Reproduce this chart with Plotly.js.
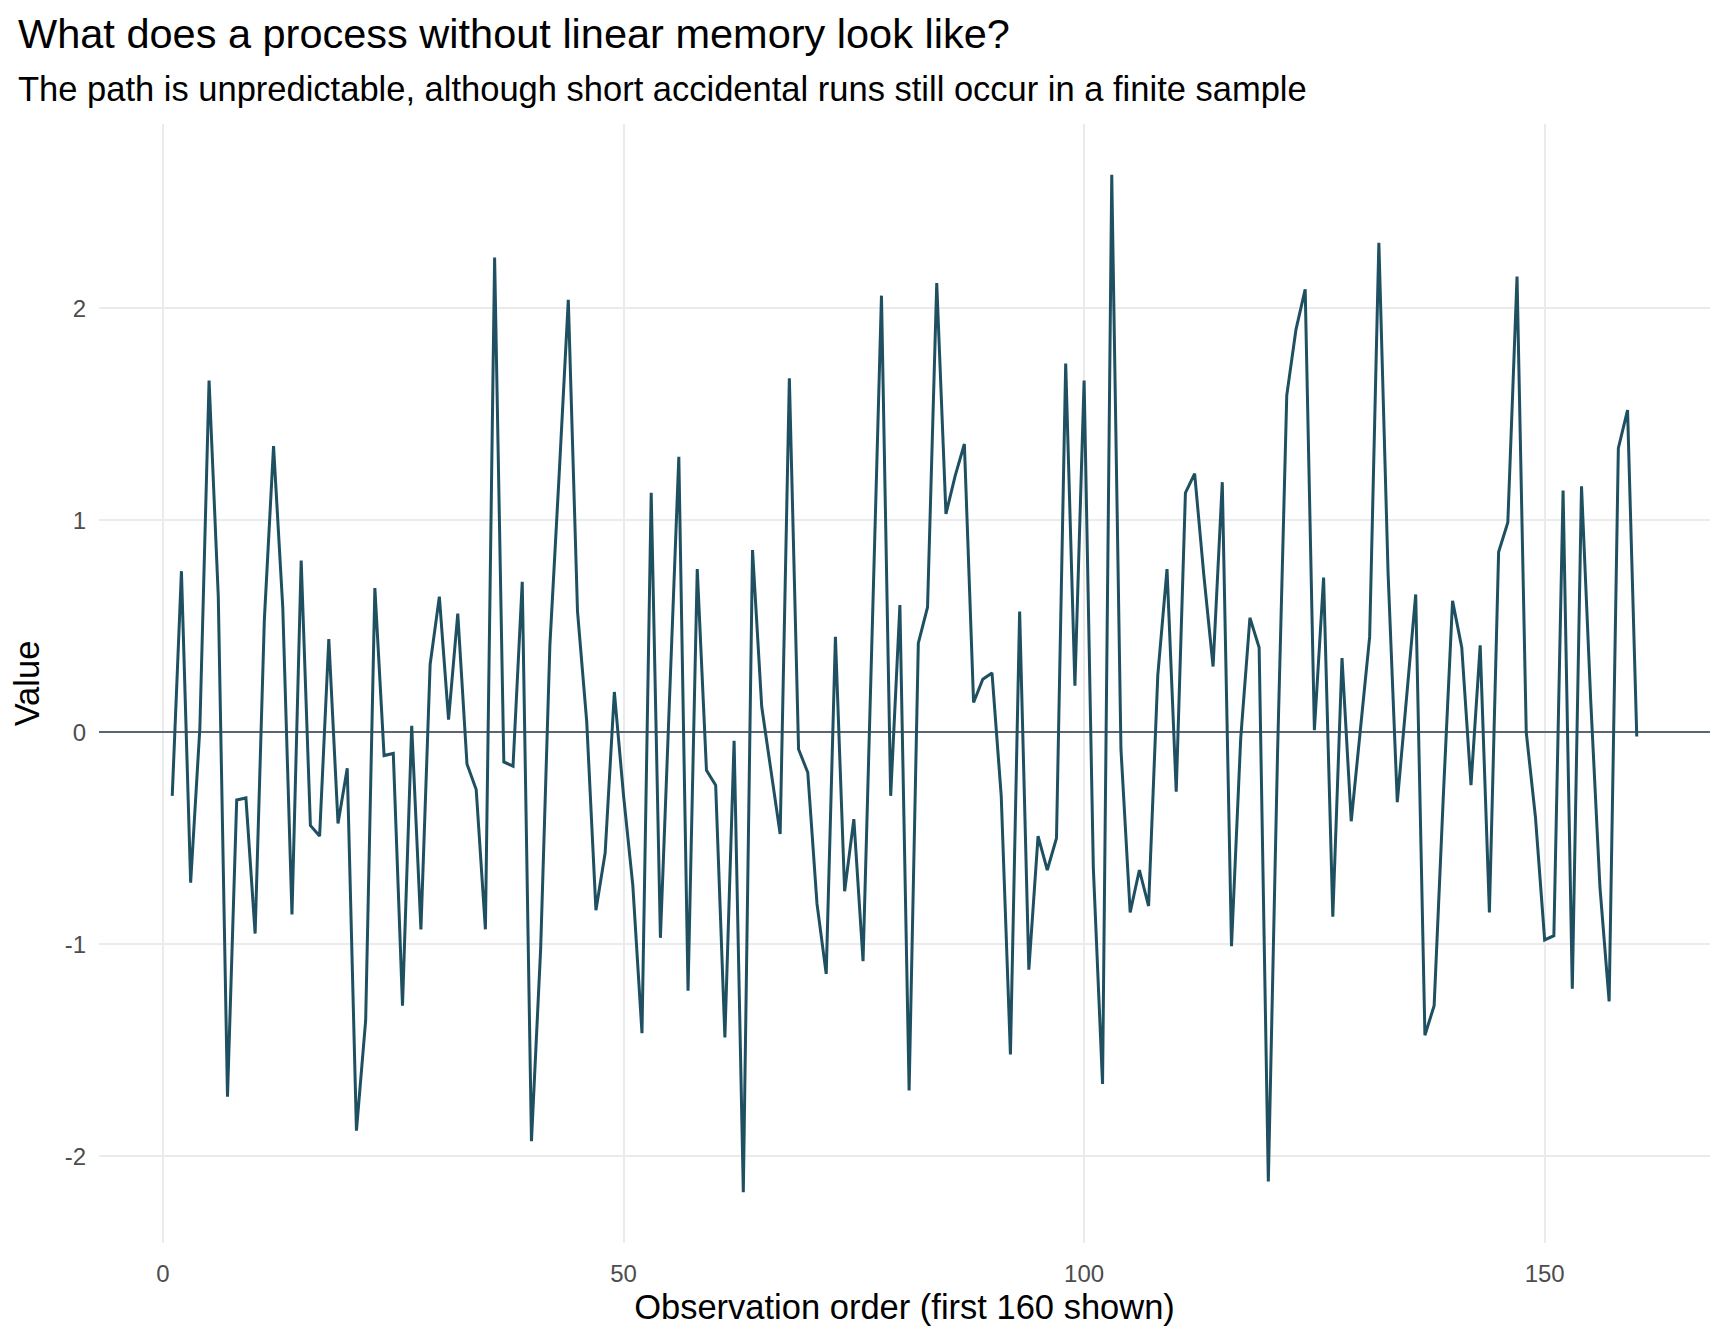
<!DOCTYPE html>
<html>
<head>
<meta charset="utf-8">
<script src="https://cdn.plot.ly/plotly-3.0.1.min.js"></script>
<style>
  html, body { margin: 0; padding: 0; background: #fff; }
  #chart { width: 1728px; height: 1344px; }
</style>
</head>
<body>
<div id="chart"></div>
<script>
  var obsValues = [
    -0.30, 0.76, -0.71, 0.02, 1.66, 0.64, -1.72, -0.32, -0.31, -0.95,
    0.53, 1.35, 0.59, -0.86, 0.81, -0.44, -0.49, 0.44, -0.43, -0.17,
    -1.88, -1.36, 0.68, -0.11, -0.10, -1.29, 0.03, -0.93, 0.32, 0.64,
    0.06, 0.56, -0.15, -0.27, -0.93, 2.24, -0.14, -0.16, 0.71, -1.93,
    -1.02, 0.41, 1.21, 2.04, 0.57, 0.05, -0.84, -0.57, 0.19, -0.30,
    -0.72, -1.42, 1.13, -0.97, 0.17, 1.30, -1.22, 0.77, -0.18, -0.25,
    -1.44, -0.04, -2.17, 0.86, 0.12, -0.17, -0.48, 1.67, -0.08, -0.19,
    -0.81, -1.14, 0.45, -0.75, -0.41, -1.08, 0.50, 2.06, -0.30, 0.60,
    -1.69, 0.42, 0.59, 2.12, 1.03, 1.21, 1.36, 0.14, 0.25, 0.28,
    -0.30, -1.52, 0.57, -1.12, -0.49, -0.65, -0.50, 1.74, 0.22, 1.66,
    -0.64, -1.66, 2.63, -0.08, -0.85, -0.65, -0.82, 0.27, 0.77, -0.28,
    1.13, 1.22, 0.74, 0.31, 1.18, -1.01, -0.03, 0.54, 0.40, -2.12,
    -0.10, 1.59, 1.90, 2.09, 0.01, 0.73, -0.87, 0.35, -0.42, 0.02,
    0.45, 2.31, 0.75, -0.33, 0.18, 0.65, -1.43, -1.29, -0.30, 0.62,
    0.40, -0.25, 0.41, -0.85, 0.85, 0.99, 2.15, 0.00, -0.40, -0.98,
    -0.96, 1.14, -1.21, 1.16, 0.15, -0.73, -1.27, 1.34, 1.52, -0.02
  ];
  var obsOrder = obsValues.map(function (v, i) { return i + 1; });

  var xTicks = [0, 50, 100, 150];
  var yTicks = [-2, -1, 0, 1, 2];

  var font = '"Liberation Sans", Arial, sans-serif';

  var trace = {
    x: obsOrder,
    y: obsValues,
    mode: 'lines',
    line: { color: '#1f5061', width: 3 },
    hoverinfo: 'x+y'
  };

  var layout = {
    width: 1728,
    height: 1344,
    paper_bgcolor: '#ffffff',
    plot_bgcolor: '#ffffff',
    margin: { l: 99, r: 18, t: 124, b: 101 },
    showlegend: false,
    font: { family: font, color: '#000000' },
    title: {
      text: 'What does a process without linear memory look like?',
      font: { family: font, size: 41.5, color: '#000000' },
      xref: 'container', yref: 'container',
      x: 18 / 1728, xanchor: 'left',
      y: 1 - 33 / 1344, yanchor: 'middle'
    },
    annotations: [{
      text: 'The path is unpredictable, although short accidental runs still occur in a finite sample',
      xref: 'paper', yref: 'paper',
      x: -83 / 1611, xanchor: 'left',
      y: 1 + (124 - 89) / 1119, yanchor: 'middle',
      showarrow: false,
      font: { family: font, size: 34.5, color: '#000000' }
    }],
    xaxis: {
      range: [-6.95, 167.95],
      tickvals: xTicks,
      ticktext: xTicks.map(String),
      showgrid: true,
      gridcolor: '#ebebeb',
      gridwidth: 2,
      zeroline: false,
      showline: false,
      ticks: '',
      ticklabelstandoff: 14,
      tickfont: { family: font, size: 24, color: '#4d4d4d' },
      title: {
        text: 'Observation order (first 160 shown)',
        font: { family: font, size: 34.5, color: '#000000' },
        standoff: 8
      }
    },
    yaxis: {
      range: [-2.41, 2.87],
      tickvals: yTicks,
      ticktext: yTicks.map(String),
      showgrid: true,
      gridcolor: '#ebebeb',
      gridwidth: 2,
      zeroline: true,
      zerolinecolor: '#5b6670',
      zerolinewidth: 1.5,
      showline: false,
      ticks: '',
      ticklabelstandoff: 12,
      tickfont: { family: font, size: 24, color: '#4d4d4d' },
      title: {
        text: 'Value',
        font: { family: font, size: 34.5, color: '#000000' },
        standoff: 14
      }
    }
  };

  Plotly.newPlot('chart', [trace], layout, { displayModeBar: false, staticPlot: true });
</script>
</body>
</html>
